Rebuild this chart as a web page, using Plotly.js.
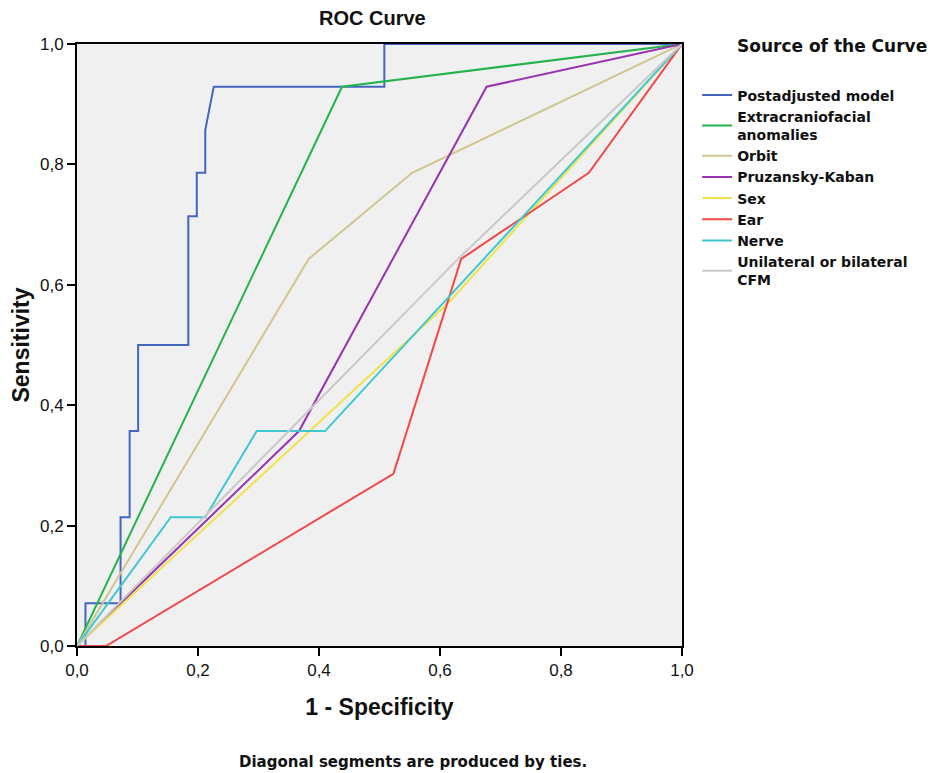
<!DOCTYPE html>
<html>
<head>
<meta charset="utf-8">
<script src="https://cdn.plot.ly/plotly-3.0.1.min.js"></script>
<style>html,body{margin:0;padding:0;background:#fff;}#chart{width:938px;height:773px;}</style>
</head>
<body>
<div id="chart"></div>
<script>
// Series names (legend order)
const seriesNames = ["Postadjusted model", "Extracraniofacial<br>anomalies", "Orbit", "Pruzansky-Kaban", "Sex", "Ear", "Nerve", "Unilateral or bilateral<br>CFM"];

// 1 - Specificity (x) and Sensitivity (y) per series
const postadjX = [0, 0.014, 0.014, 0.072, 0.072, 0.087, 0.087, 0.101, 0.101, 0.184, 0.184, 0.198, 0.198, 0.212, 0.212, 0.226, 0.508, 0.508, 1];
const postadjY = [0, 0, 0.071, 0.071, 0.214, 0.214, 0.357, 0.357, 0.5, 0.5, 0.714, 0.714, 0.786, 0.786, 0.857, 0.929, 0.929, 1, 1];
const extraX = [0, 0.438, 1];
const extraY = [0, 0.929, 1];
const orbitX = [0, 0.383, 0.554, 1];
const orbitY = [0, 0.643, 0.786, 1];
const pruzX = [0, 0.072, 0.367, 0.677, 1];
const pruzY = [0, 0.071, 0.357, 0.929, 1];
const sexX = [0, 0.615, 1];
const sexY = [0, 0.571, 1];
const earX = [0, 0.048, 0.523, 0.635, 0.846, 1];
const earY = [0, 0, 0.286, 0.643, 0.786, 1];
const nerveX = [0, 0.155, 0.212, 0.297, 0.41, 1];
const nerveY = [0, 0.214, 0.214, 0.357, 0.357, 1];
const cfmX = [0, 0.63, 1];
const cfmY = [0, 0.643, 1];

const tickVals = [0, 0.2, 0.4, 0.6, 0.8, 1.0];
const tickText = ["0,0", "0,2", "0,4", "0,6", "0,8", "1,0"];

const colors = ["#4466c0", "#22b34c", "#cfc690", "#9932b0", "#f2e24a", "#f24848", "#3ec9d2", "#c9c9c9"];
const xs = [postadjX, extraX, orbitX, pruzX, sexX, earX, nerveX, cfmX];
const ys = [postadjY, extraY, orbitY, pruzY, sexY, earY, nerveY, cfmY];

const traces = seriesNames.map((n, i) => ({
  type: "scatter", mode: "lines", name: n, x: xs[i], y: ys[i],
  line: {color: colors[i], width: 2},
  hoverinfo: "x+y+name"
}));

const axisCommon = {
  range: [0, 1], tickvals: tickVals, ticktext: tickText,
  showgrid: false, zeroline: false, showline: true, mirror: true,
  linecolor: "#000", linewidth: 2, ticks: "outside", ticklen: 8, tickwidth: 2, tickcolor: "#000",
  tickfont: {family: "Liberation Sans, Arial, sans-serif", size: 17, color: "#111"},
  fixedrange: true
};

const layout = {
  width: 938, height: 773,
  margin: {l: 77, r: 256, t: 44, b: 127, pad: 0},
  paper_bgcolor: "#ffffff", plot_bgcolor: "#f0f0f0",
  xaxis: Object.assign({}, axisCommon, {
    title: {text: "<b>1 - Specificity</b>", standoff: 19, font: {family: "Liberation Sans, Arial, sans-serif", size: 23, color: "#111"}}
  }),
  yaxis: Object.assign({}, axisCommon, {
    title: {text: "<b>Sensitivity</b>", standoff: 4, font: {family: "Liberation Sans, Arial, sans-serif", size: 23, color: "#111"}}
  }),
  showlegend: true,
  legend: {
    x: 1.025, xanchor: "left", y: 0.941, yanchor: "top",
    font: {family: "DejaVu Sans, sans-serif", size: 14, color: "#111", weight: "bold"},
    bgcolor: "rgba(0,0,0,0)", borderwidth: 0, tracegroupgap: 0, itemwidth: 30
  },
  annotations: [
    {text: "<b>ROC Curve</b>", xref: "paper", yref: "paper", x: 0.488, y: 1, yshift: 26, xanchor: "center", yanchor: "middle", showarrow: false,
     font: {family: "Liberation Sans, Arial, sans-serif", size: 20, color: "#111"}},
    {text: "<b>Source of the Curve</b>", xref: "paper", yref: "paper", x: 1.088, y: 1, yshift: -2, xanchor: "left", yanchor: "middle", showarrow: false,
     font: {family: "DejaVu Sans, sans-serif", size: 17, color: "#111"}},
    {text: "<b>Diagonal segments are produced by ties.</b>", xref: "paper", yref: "paper", x: 0.556, y: 0, yshift: -116, xanchor: "center", yanchor: "middle", showarrow: false,
     font: {family: "DejaVu Sans, sans-serif", size: 15, color: "#111"}}
  ]
};

Plotly.newPlot("chart", traces, layout, {displayModeBar: false, staticPlot: false});
</script>
</body>
</html>
